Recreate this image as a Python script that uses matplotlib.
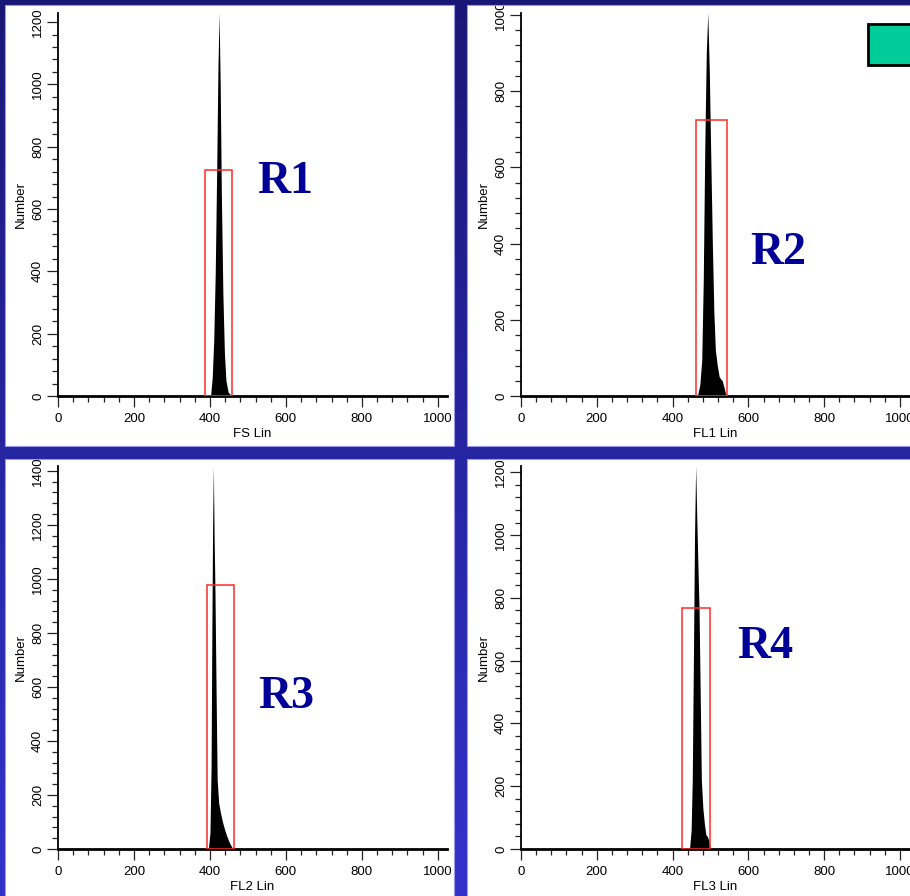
import numpy as np
import matplotlib.pyplot as plt
from matplotlib.patches import Rectangle
from matplotlib.ticker import MultipleLocator

plt.rcParams['font.family'] = ['Liberation Sans', 'DejaVu Sans']

W, H = 910, 896

# histogram outlines: channel -> number of events
fs_channel = [395, 402, 406, 410, 414, 418, 421, 424, 427, 430, 434, 438, 442, 448, 455, 460]
fs_count = [0, 5, 60, 180, 400, 750, 1050, 1229, 1000, 650, 330, 140, 50, 12, 3, 0]

fl1_channel = [460, 466, 472, 477, 481, 485, 489, 493, 497, 501, 505, 509, 513, 518, 523, 527, 531, 536, 540, 545]
fl1_count = [0, 2, 30, 94, 300, 650, 900, 1005, 850, 620, 400, 220, 120, 80, 51, 45, 40, 22, 5, 0]

fl2_channel = [390, 396, 400, 403, 405, 407, 409, 411, 413, 416, 419, 423, 428, 433, 439, 445, 452, 458, 462]
fl2_count = [0, 2, 60, 300, 800, 1200, 1418, 1150, 980, 600, 256, 170, 132, 100, 70, 45, 21, 6, 0]

fl3_channel = [440, 445, 449, 452, 455, 458, 461, 464, 467, 470, 474, 476, 480, 484, 488, 492, 496, 499, 503]
fl3_count = [0, 3, 60, 220, 600, 1000, 1220, 1050, 900, 760, 400, 220, 130, 80, 45, 40, 25, 5, 0]

x_labels = ['FS Lin', 'FL1 Lin', 'FL2 Lin', 'FL3 Lin']
region_names = ['R1', 'R2', 'R3', 'R4']
gate_lo = [387, 461, 391, 424]
gate_hi = [457, 543, 462, 499]
gate_top = [725, 724, 978, 769]
y_max = [1229, 1005, 1418, 1220]
name_x = [597, 678, 600, 644]
name_y = [687, 375, 564, 644]

channels = [fs_channel, fl1_channel, fl2_channel, fl3_channel]
counts = [fs_count, fl1_count, fl2_count, fl3_count]

# axes boxes in pixels: left, top, right, bottom
boxes = [(58, 13, 447, 396), (521, 13, 909, 396), (58, 466, 447, 849), (521, 466, 909, 849)]
panels = [(5, 5, 454, 446), (467, 5, 915, 446), (5, 459, 454, 900), (467, 459, 915, 900)]

fig = plt.figure(figsize=(W / 100, H / 100), dpi=100, facecolor='white')

for i in range(4):
    l, t, r, b = boxes[i]
    ax = fig.add_axes([l / W, 1 - b / H, (r - l) / W, (b - t) / H])
    ax.fill_between(channels[i], counts[i], color='black', lw=0)
    ax.add_patch(Rectangle((gate_lo[i], 0), gate_hi[i] - gate_lo[i], gate_top[i],
                           fill=False, ec='#ff2a2a', lw=1.1, zorder=3))
    ax.text(name_x[i], name_y[i], region_names[i], color='#000099', fontsize=33,
            fontweight='bold', family='Liberation Serif', ha='center', va='center')
    ax.set_xlim(0, 1024)
    ax.set_ylim(0, y_max[i])
    for s in ['top', 'right']:
        ax.spines[s].set_visible(False)
    ax.spines['bottom'].set_linewidth(2)
    ax.spines['left'].set_linewidth(1.3)
    ax.xaxis.set_major_locator(MultipleLocator(200))
    ax.xaxis.set_minor_locator(MultipleLocator(40))
    ax.yaxis.set_major_locator(MultipleLocator(200))
    ax.yaxis.set_minor_locator(MultipleLocator(40))
    ax.tick_params(which='major', length=8, width=0.9, color='#222222', labelsize=9.5)
    ax.tick_params(which='minor', length=4.3, width=0.9, color='#222222')
    ax.tick_params(axis='x', pad=4)
    ax.tick_params(axis='y', pad=2, labelrotation=90)
    plt.setp(ax.get_yticklabels(), va='center')
    ax.set_xlabel(x_labels[i], fontsize=9.5)
    ax.set_ylabel('Number', fontsize=9.5)
    ax.xaxis.set_label_coords(0.5, -32 / (b - t))
    ax.yaxis.set_label_coords(-31 / (r - l), 0.5)

# blue frame drawn on top, transparent over the white panels
yy = np.linspace(0, 1, H)[:, None, None]
top_c = np.array([0.10, 0.09, 0.46])
bot_c = np.array([0.20, 0.20, 0.80])
rgb = top_c + (bot_c - top_c) * yy
frame = np.ones((H, W, 4))
frame[:, :, :3] = rgb
for l, t, r, b in panels:
    frame[t:b, l:r, 3] = 0

over = fig.add_axes([0, 0, 1, 1])
over.set_zorder(10)
over.imshow(frame, extent=[0, W, H, 0], interpolation='nearest', aspect='auto')
for l, t, r, b in panels:
    over.add_patch(Rectangle((l, t), r - l, b - t, fill=False, ec='#9a9ae8', lw=0.8))
over.add_patch(Rectangle((868, 24), 70, 41, fc='#00cc99', ec='black', lw=2))
over.set_xlim(0, W)
over.set_ylim(H, 0)
over.axis('off')

fig.savefig('out.png', dpi=100)
